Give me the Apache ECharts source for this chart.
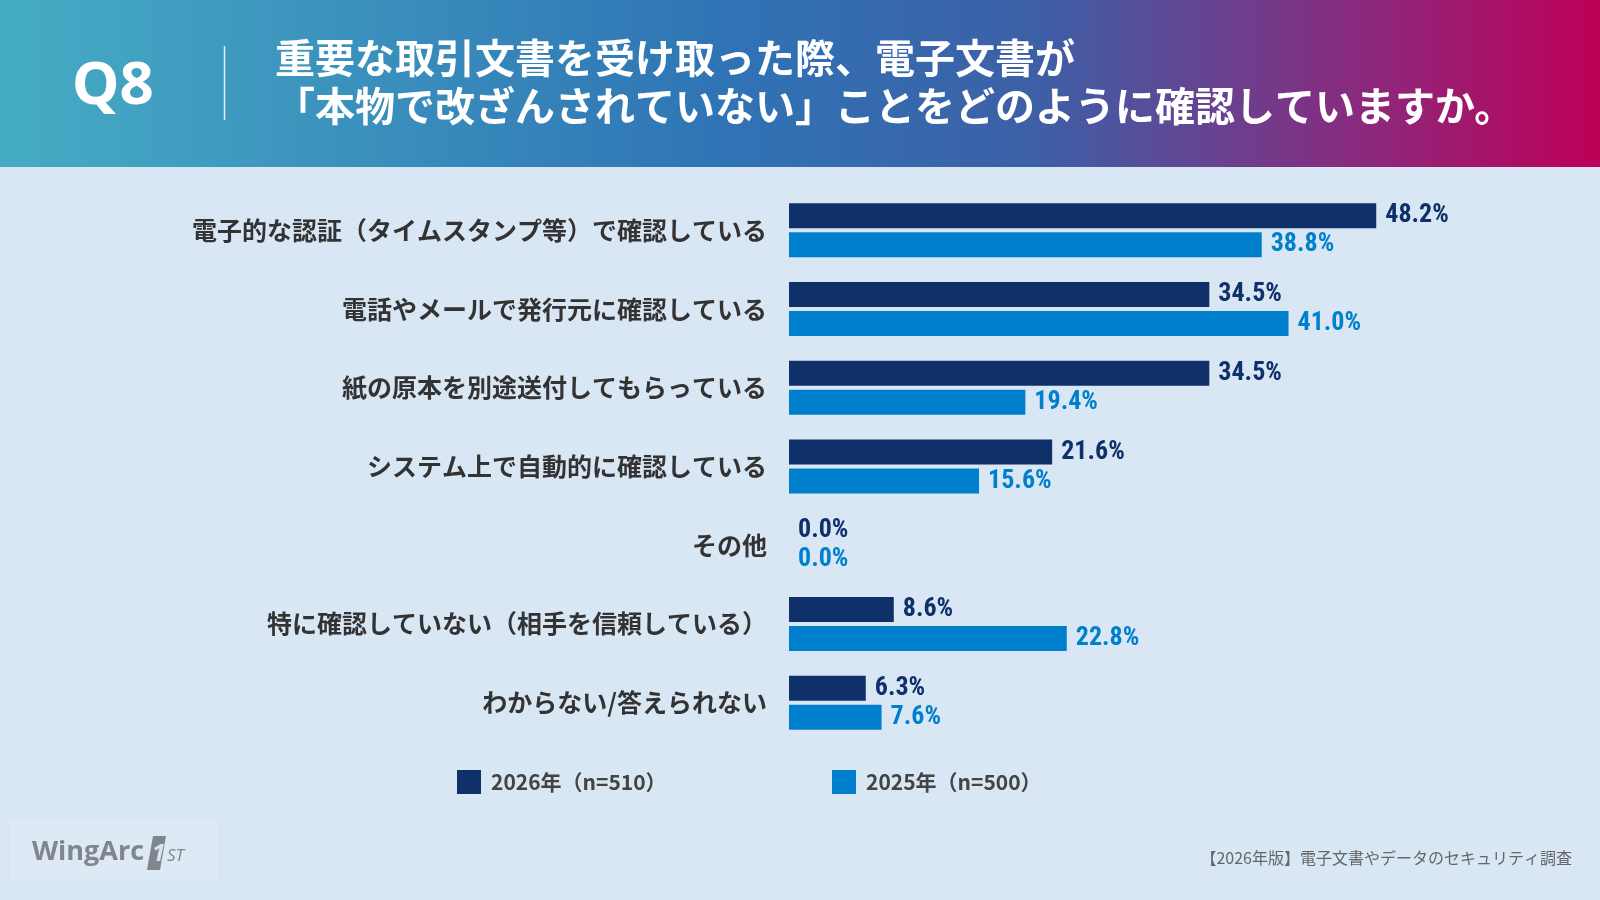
<!DOCTYPE html>
<html>
<head>
<meta charset="utf-8">
<script src="https://cdn.jsdelivr.net/npm/echarts@6/dist/echarts.min.js"></script>
<style>
  html, body { margin: 0; padding: 0; background: #d9e7f5; }
  #chart { width: 1600px; height: 900px; }
</style>
</head>
<body>
<div id="chart"></div>
<script>
// 設問の選択肢
var categories = [
    '電子的な認証（タイムスタンプ等）で確認している',
    '電話やメールで発行元に確認している',
    '紙の原本を別途送付してもらっている',
    'システム上で自動的に確認している',
    'その他',
    '特に確認していない（相手を信頼している）',
    'わからない/答えられない'
];
var seriesNames = ['2026年（n=510）', '2025年（n=500）'];
var values2026 = [48.2, 34.5, 34.5, 21.6, 0.0, 8.6, 6.3];
var values2025 = [38.8, 41.0, 19.4, 15.6, 0.0, 22.8, 7.6];

var titleLines = [
    '重要な取引文書を受け取った際、電子文書が',
    '「本物で改ざんされていない」ことをどのように確認していますか。'
];
var sourceText = '【2026年版】電子文書やデータのセキュリティ調査';

var jp = '"Noto Sans CJK JP", "Noto Sans", sans-serif';
var num = '"Liberation Sans Narrow", "Roboto Condensed", "DejaVu Sans Condensed", "Noto Sans CJK JP", sans-serif';
var colorNew = '#10306a';
var colorOld = '#0080cc';

var myChart = echarts.init(document.getElementById('chart'));

function labelOpt(color) {
    return {
        show: true,
        position: 'right',
        distance: 9,
        formatter: function (p) { return p.value.toFixed(1) + '%'; },
        color: color,
        fontFamily: num,
        fontWeight: 'bold',
        fontSize: 26
    };
}

function legendOpt(name, left) {
    return {
        data: [name],
        left: left,
        top: 765,
        icon: 'rect',
        itemWidth: 24,
        itemHeight: 24,
        textStyle: { color: '#444', fontFamily: jp, fontWeight: 'bold', fontSize: 21, padding: [0, 0, 0, 5] }
    };
}

var option = {
    backgroundColor: '#d9e7f5',
    animation: false,
    graphic: [
        {
            // ヘッダー背景
            type: 'rect',
            z: -1,
            shape: { x: 0, y: 0, width: 1600, height: 167 },
            style: {
                fill: new echarts.graphic.LinearGradient(0, 0, 1, 0, [
                    { offset: 0, color: '#46acc4' },
                    { offset: 0.45, color: '#2f74b5' },
                    { offset: 0.65, color: '#3d5fa6' },
                    { offset: 0.85, color: '#8a2a7e' },
                    { offset: 1, color: '#bd0057' }
                ])
            }
        },
        {
            type: 'text',
            left: 72,
            top: 57,
            style: { text: 'Q8', fill: '#fff', font: 'bold 60px "Noto Sans", sans-serif' }
        },
        {
            type: 'line',
            shape: { x1: 224.5, y1: 46, x2: 224.5, y2: 120 },
            style: { stroke: 'rgba(255,255,255,0.85)', lineWidth: 1.5 }
        },
        {
            type: 'text',
            left: 275,
            top: 34,
            style: {
                text: titleLines.join('\n'),
                fill: '#fff',
                font: 'bold 40px ' + jp,
                lineHeight: 48
            }
        },
        {
            // ロゴ
            type: 'rect',
            shape: { x: 10, y: 820, width: 208, height: 60 },
            style: { fill: 'rgba(255,255,255,0.12)' }
        },
        {
            type: 'text',
            x: 32,
            y: 852,
            style: {
                text: 'WingArc',
                fill: '#80868b',
                font: 'bold 27px "Open Sans", sans-serif',
                textVerticalAlign: 'middle'
            }
        },
        {
            type: 'polygon',
            shape: { points: [[153, 836], [166, 836], [160, 870], [147, 870]] },
            style: { fill: '#80868b' }
        },
        {
            type: 'text',
            x: 152,
            y: 854,
            style: {
                text: '1',
                fill: '#d9e7f5',
                font: 'italic bold 24px "Open Sans", sans-serif',
                textVerticalAlign: 'middle'
            }
        },
        {
            type: 'text',
            x: 167,
            y: 856,
            style: {
                text: 'ST',
                fill: '#80868b',
                font: 'italic 17px "Open Sans", sans-serif',
                textVerticalAlign: 'middle'
            }
        },
        {
            type: 'text',
            right: 28,
            top: 850,
            style: { text: sourceText, fill: '#666', font: '16px ' + jp }
        }
    ],
    legend: [
        legendOpt(seriesNames[0], 452),
        legendOpt(seriesNames[1], 827)
    ],
    grid: {
        left: 789,
        top: 191,
        width: 731,
        height: 551
    },
    xAxis: {
        type: 'value',
        min: 0,
        max: 60,
        show: false
    },
    yAxis: {
        type: 'category',
        data: categories,
        inverse: true,
        axisLine: { show: false },
        axisTick: { show: false },
        axisLabel: {
            margin: 22,
            color: '#333',
            fontFamily: jp,
            fontWeight: 'bold',
            fontSize: 25
        }
    },
    series: [
        {
            name: seriesNames[0],
            type: 'bar',
            data: values2026,
            barWidth: 25,
            barGap: '16%',
            itemStyle: { color: colorNew },
            label: labelOpt(colorNew)
        },
        {
            name: seriesNames[1],
            type: 'bar',
            data: values2025,
            barWidth: 25,
            itemStyle: { color: colorOld },
            label: labelOpt(colorOld)
        }
    ]
};

myChart.setOption(option);
</script>
</body>
</html>
